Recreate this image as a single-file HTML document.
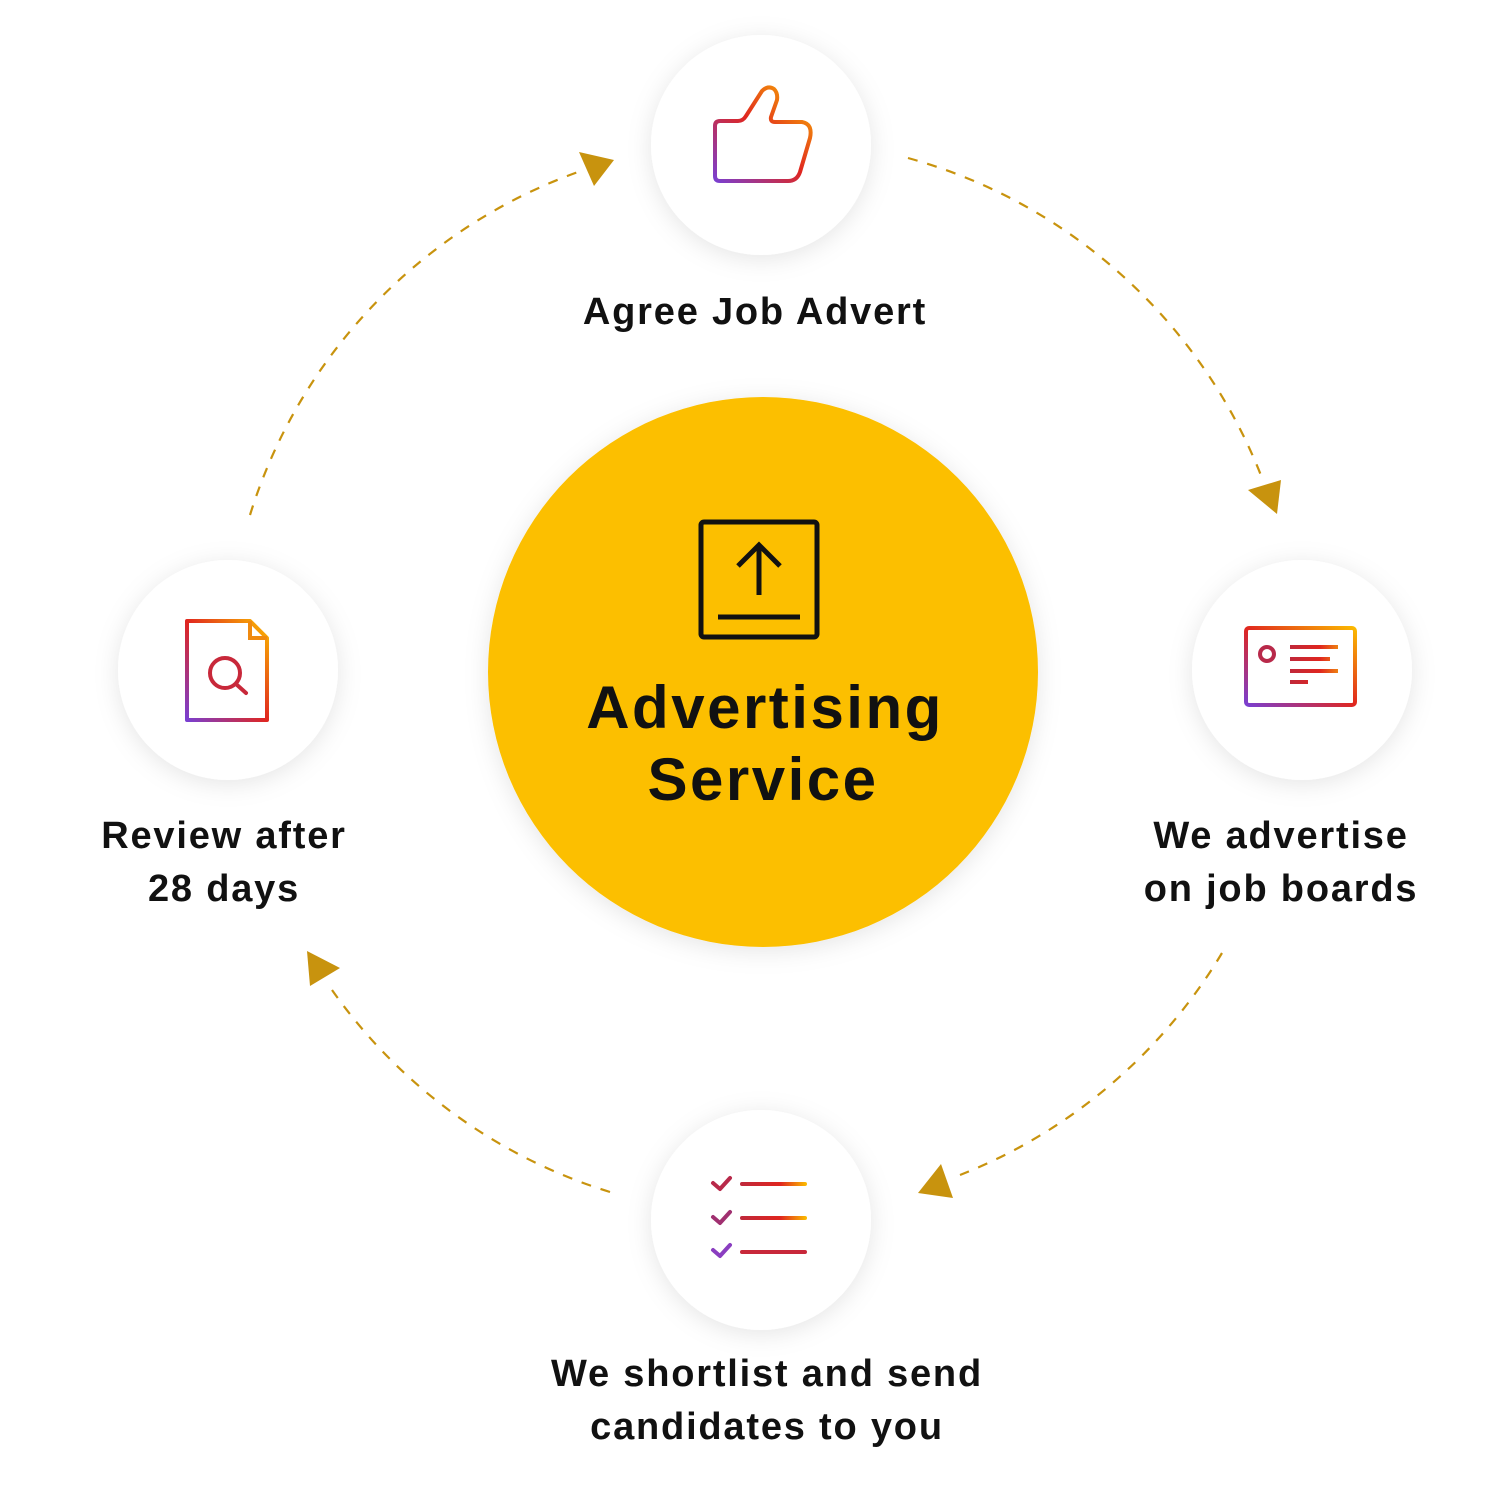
<!DOCTYPE html>
<html><head><meta charset="utf-8"><style>
html,body{margin:0;padding:0;background:#fff}
svg text{font-family:"Liberation Sans",Arial,sans-serif;font-weight:bold;fill:#111}
</style></head><body>
<svg width="1500" height="1500" viewBox="0 0 1500 1500" xmlns="http://www.w3.org/2000/svg">
<defs>
<linearGradient id="g" x1="0" y1="1" x2="1" y2="0">
<stop offset="0" stop-color="#7a3fd0"/><stop offset="0.5" stop-color="#e0261f"/><stop offset="1" stop-color="#fbb900"/>
</linearGradient>
<linearGradient id="gc" gradientUnits="userSpaceOnUse" x1="1290" y1="0" x2="1340" y2="0">
<stop offset="0" stop-color="#c0283a"/><stop offset="0.6" stop-color="#e0261f"/><stop offset="1" stop-color="#f08a10"/>
</linearGradient>
<linearGradient id="gl" gradientUnits="userSpaceOnUse" x1="742" y1="0" x2="806" y2="0">
<stop offset="0" stop-color="#c0283a"/><stop offset="0.6" stop-color="#e0261f"/><stop offset="1" stop-color="#fbb900"/>
</linearGradient>
<filter id="sh" x="-30%" y="-30%" width="160%" height="160%">
<feDropShadow dx="0" dy="4" stdDeviation="12" flood-color="#000" flood-opacity="0.10"/>
</filter>
</defs>
<g fill="none" stroke="#c8930e" stroke-width="2.2" stroke-dasharray="10 10">
<path d="M908 158 A532 532 0 0 1 1262 478"/>
<path d="M250 515 A532 532 0 0 1 578 172"/>
<path d="M1222 953 A532 532 0 0 1 960 1175"/>
<path d="M610 1192 A532 532 0 0 1 332 990"/>
</g>
<g fill="#c8930e">
<polygon points="1248,490 1281,480 1277,514"/>
<polygon points="579,152 614,160 594,186"/>
<polygon points="918,1193 941,1164 953,1198"/>
<polygon points="307,951 340,968 310,986"/>
</g>
<circle cx="763" cy="672" r="275" fill="#fcbf00" filter="url(#sh)"/>
<circle cx="761" cy="145" r="110" fill="#fff" filter="url(#sh)"/>
<circle cx="1302" cy="670" r="110" fill="#fff" filter="url(#sh)"/>
<circle cx="761" cy="1220" r="110" fill="#fff" filter="url(#sh)"/>
<circle cx="228" cy="670" r="110" fill="#fff" filter="url(#sh)"/>
<rect x="701" y="522" width="116" height="115" fill="none" stroke="#111" stroke-width="5" rx="3"/>
<line x1="718" y1="617" x2="800" y2="617" stroke="#111" stroke-width="5"/>
<path d="M759 595 V545 M738 566 L759 545 L780 566" fill="none" stroke="#111" stroke-width="5"/>
<text x="765" y="728" font-size="60" text-anchor="middle" letter-spacing="2.5">Advertising</text>
<text x="763" y="800" font-size="60" text-anchor="middle" letter-spacing="2.5">Service</text>
<path d="M720 121 H738 Q743 121 746 116 L762 91 Q768 85 774 89 Q778 93 777 100 L771 117 Q770 122 775 122 H802 Q813 124 810 138 L800 172 Q797 181 788 181 H720 Q715 181 715 176 V126 Q715 121 720 121 Z" fill="none" stroke="url(#g)" stroke-width="4" stroke-linejoin="round"/>
<rect x="1246" y="628" width="109" height="77" rx="3" fill="none" stroke="url(#g)" stroke-width="4"/>
<circle cx="1267" cy="654" r="7" fill="none" stroke="#b8294a" stroke-width="4"/>
<g stroke="url(#gc)" stroke-width="4">
<line x1="1290" y1="647" x2="1338" y2="647"/><line x1="1290" y1="659" x2="1330" y2="659"/>
<line x1="1290" y1="671" x2="1338" y2="671"/><line x1="1290" y1="682" x2="1308" y2="682"/>
</g>
<path d="M187 621 H250 L267 638 V720 H187 Z" fill="none" stroke="url(#g)" stroke-width="4" stroke-linejoin="round"/>
<path d="M250 621 V638 H267" fill="none" stroke="#f08a10" stroke-width="4"/>
<circle cx="225" cy="673" r="15" fill="none" stroke="#c8283a" stroke-width="4"/>
<line x1="236" y1="684" x2="246" y2="693" stroke="#c8283a" stroke-width="4" stroke-linecap="round"/>
<g fill="none" stroke-width="4" stroke-linecap="round" stroke-linejoin="round">
<path d="M713 1183 L720 1189 L730 1178" stroke="#b8294a"/>
<path d="M713 1217 L720 1223 L730 1212" stroke="#a03070"/>
<path d="M713 1250 L720 1256 L730 1245" stroke="#8a3ec0"/>
<line x1="742" y1="1184" x2="805" y2="1184" stroke="url(#gl)"/>
<line x1="742" y1="1218" x2="805" y2="1218" stroke="url(#gl)"/>
<line x1="742" y1="1252" x2="805" y2="1252" stroke="#c8283a"/>
</g>
<g font-size="38" text-anchor="middle" letter-spacing="1.8">
<text x="755" y="324">Agree Job Advert</text>
<text x="1281" y="848">We advertise</text>
<text x="1281" y="901">on job boards</text>
<text x="224" y="848">Review after</text>
<text x="224" y="901">28 days</text>
<text x="767" y="1386">We shortlist and send</text>
<text x="767" y="1439">candidates to you</text>
</g>
</svg>
</body></html>
